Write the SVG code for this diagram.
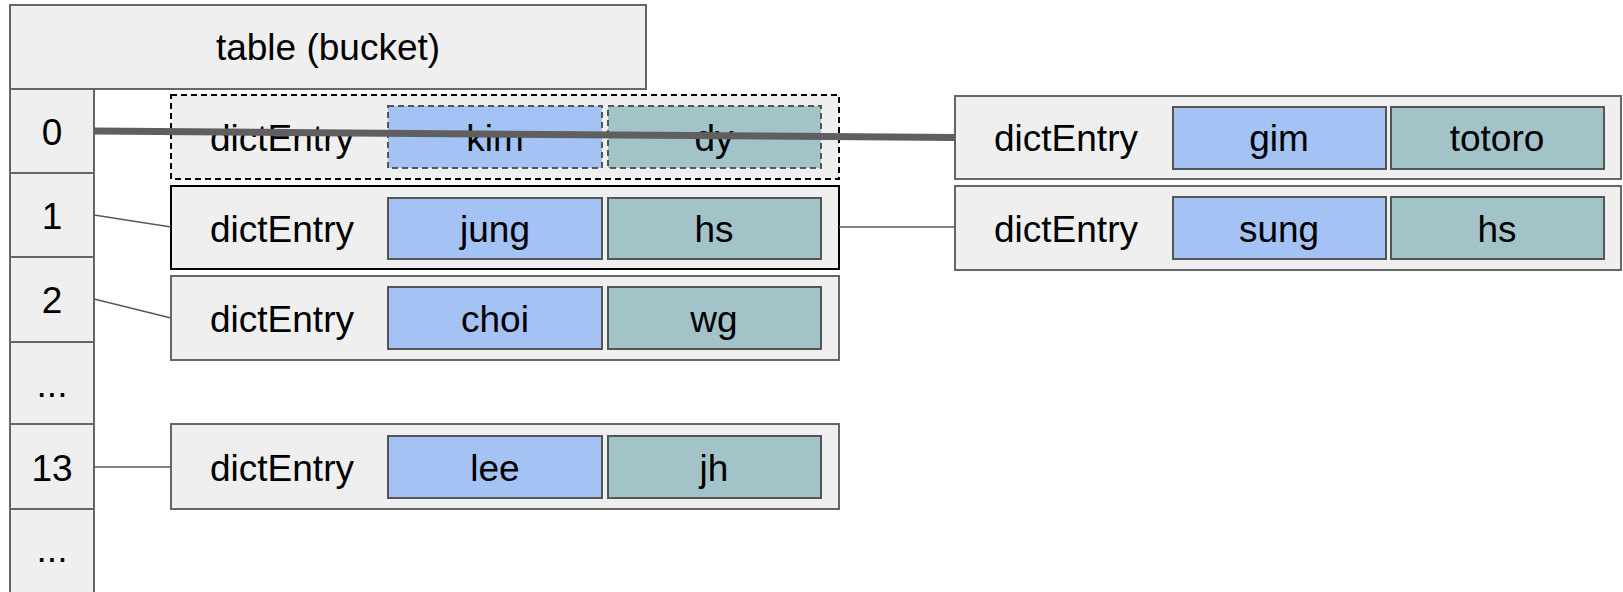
<svg xmlns="http://www.w3.org/2000/svg" width="1623" height="592" viewBox="0 0 1623 592">
<style>
.box{fill:#efefef;stroke:#666666;stroke-width:2}
.ent{fill:#efefef;stroke:#666666;stroke-width:2}
.sel{stroke:#000000}
.dash{stroke:#000000;stroke-dasharray:6 4}
.key{fill:#a4c2f4;stroke:#555555;stroke-width:2}
.val{fill:#a2c4c9;stroke:#555555;stroke-width:2}
text{font-family:"Liberation Sans",Arial,sans-serif;font-size:37px;fill:#000000;text-anchor:middle}
.con{stroke:#595959;stroke-width:1.6;fill:none}
.thick{stroke:#5f5f5f;stroke-width:7;fill:none}
</style>
<rect width="1623" height="592" fill="#ffffff"/>
<g id="table">
<rect class="box" x="10" y="5" width="636" height="84"/>
<text x="328" y="60">table (bucket)</text>
</g>
<g id="bucket0"><rect class="box" x="10" y="89" width="84" height="84"/><text x="52" y="145">0</text></g>
<g id="bucket1"><rect class="box" x="10" y="173" width="84" height="84"/><text x="52" y="229">1</text></g>
<g id="bucket2"><rect class="box" x="10" y="257" width="84" height="85"/><text x="52" y="313">2</text></g>
<g id="bucket3"><rect class="box" x="10" y="342" width="84" height="82"/><text x="52" y="397">...</text></g>
<g id="bucket13"><rect class="box" x="10" y="424" width="84" height="85"/><text x="52" y="481">13</text></g>
<g id="bucket14"><rect class="box" x="10" y="509" width="84" height="95"/><text x="52" y="562">...</text></g>

<g id="entry-kim">
<rect class="ent dash" x="171" y="95" width="668" height="84"/>
<text x="282" y="151">dictEntry</text>
<rect class="key dash" x="388" y="106" width="214" height="62"/>
<text x="495" y="151">kim</text>
<rect class="val dash" x="608" y="106" width="213" height="62"/>
<text x="714" y="151">dy</text>
</g>
<g id="entry-jung">
<rect class="ent sel" x="171" y="186" width="668" height="83"/>
<text x="282" y="242">dictEntry</text>
<rect class="key sel" x="388" y="198" width="214" height="61"/>
<text x="495" y="242">jung</text>
<rect class="val sel" x="608" y="198" width="213" height="61"/>
<text x="714" y="242">hs</text>
</g>
<g id="entry-choi">
<rect class="ent" x="171" y="276" width="668" height="84"/>
<text x="282" y="332">dictEntry</text>
<rect class="key" x="388" y="287" width="214" height="62"/>
<text x="495" y="332">choi</text>
<rect class="val" x="608" y="287" width="213" height="62"/>
<text x="714" y="332">wg</text>
</g>
<g id="entry-lee">
<rect class="ent" x="171" y="424" width="668" height="85"/>
<text x="282" y="481">dictEntry</text>
<rect class="key" x="388" y="436" width="214" height="62"/>
<text x="495" y="481">lee</text>
<rect class="val" x="608" y="436" width="213" height="62"/>
<text x="714" y="481">jh</text>
</g>
<g id="entry-gim">
<rect class="ent" x="955" y="96" width="666" height="83"/>
<text x="1066" y="151">dictEntry</text>
<rect class="key" x="1173" y="107" width="213" height="62"/>
<text x="1279" y="151">gim</text>
<rect class="val" x="1391" y="107" width="213" height="62"/>
<text x="1497" y="151">totoro</text>
</g>
<g id="entry-sung">
<rect class="ent" x="955" y="186" width="666" height="84"/>
<text x="1066" y="242">dictEntry</text>
<rect class="key" x="1173" y="197" width="213" height="62"/>
<text x="1279" y="242">sung</text>
<rect class="val" x="1391" y="197" width="213" height="62"/>
<text x="1497" y="242">hs</text>
</g>

<g id="connectors">
<line class="thick" x1="94" y1="131" x2="955" y2="137.5"/>
<line class="con" x1="94" y1="215" x2="171" y2="227"/>
<line class="con" x1="94" y1="299" x2="171" y2="318"/>
<line class="con" x1="94" y1="467" x2="171" y2="467"/>
<line class="con" x1="839" y1="227" x2="955" y2="227"/>
</g>
</svg>
